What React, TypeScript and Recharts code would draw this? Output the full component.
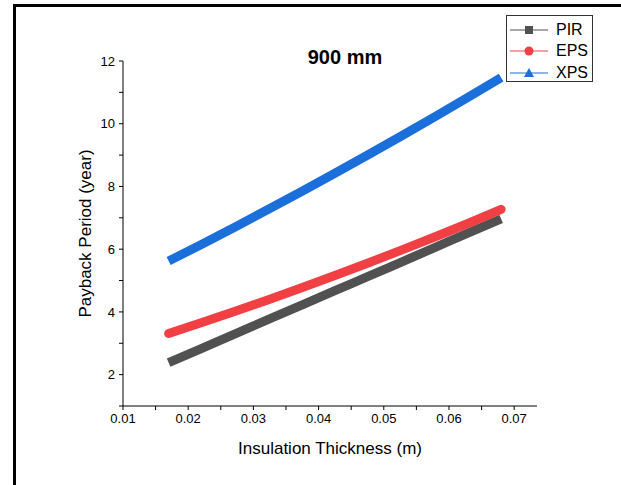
import { LineChart, Line, XAxis, YAxis } from "recharts";

// insulation thickness (m)
const thickness = [0.017, 0.0221, 0.0272, 0.0323, 0.0374, 0.0425, 0.0476, 0.0527, 0.0578, 0.0629, 0.068];
// payback period (year)
const pir = [2.38, 2.84, 3.3, 3.76, 4.22, 4.68, 5.13, 5.59, 6.05, 6.51, 6.97];
const eps = [3.31, 3.66, 4.02, 4.39, 4.77, 5.16, 5.56, 5.97, 6.39, 6.82, 7.27];
const xps = [5.62, 6.16, 6.71, 7.27, 7.84, 8.42, 9.01, 9.61, 10.22, 10.84, 11.47];

const xTicks = [0.01, 0.015, 0.02, 0.025, 0.03, 0.035, 0.04, 0.045, 0.05, 0.055, 0.06, 0.065, 0.07];
const yTicks = [1, 2, 3, 4, 5, 6, 7, 8, 9, 10, 11, 12];

const FONT = "Arial, 'Liberation Sans', sans-serif";

const series = [
  { key: "PIR", color: "#515151", cap: "butt", marker: "square" },
  { key: "EPS", color: "#F14044", cap: "round", marker: "circle" },
  { key: "XPS", color: "#1B6FDB", cap: "butt", marker: "triangle" },
] as const;

const data = thickness.map((t, i) => ({ t, PIR: pir[i], EPS: eps[i], XPS: xps[i] }));

function Marker({ kind, color }: { kind: string; color: string }) {
  if (kind === "square") return <rect x={15} y={-4} width={8} height={8} fill={color} />;
  if (kind === "circle") return <circle cx={19} cy={0} r={4.5} fill={color} />;
  return <polygon points="19,-5 24,4 14,4" fill={color} />;
}

function LegendBox() {
  return (
    <div
      style={{
        position: "absolute",
        left: 506,
        top: 15,
        width: 85,
        height: 65,
        border: "1px solid #333",
        background: "#fff",
        fontFamily: FONT,
        fontSize: 16,
      }}
    >
      {series.map((s) => (
        <div key={s.key} style={{ display: "flex", alignItems: "center", height: 21.5, marginTop: s.key === "PIR" ? 3 : 0 }}>
          <svg width={44} height={12} style={{ marginLeft: 3 }}>
            <g transform="translate(0,6)">
              <line x1={0} x2={38} y1={0} y2={0} stroke={s.color} strokeWidth={1} />
              <Marker kind={s.marker} color={s.color} />
            </g>
          </svg>
          <span style={{ color: "#000", marginLeft: 2 }}>{s.key}</span>
        </div>
      ))}
    </div>
  );
}

export default function App() {
  return (
    <div style={{ position: "absolute", left: 0, top: 0, width: 621, height: 485, background: "#fff", overflow: "hidden" }}>
      <div
        style={{
          position: "absolute",
          left: 13,
          top: 4,
          right: -10,
          bottom: -10,
          borderLeft: "3px solid #000",
          borderTop: "3px solid #000",
        }}
      />
      <div
        style={{
          position: "absolute",
          left: 245,
          width: 200,
          top: 46,
          textAlign: "center",
          fontFamily: FONT,
          fontWeight: "bold",
          fontSize: 20,
          color: "#000",
        }}
      >
        900 mm
      </div>
      <LineChart width={621} height={485} data={data} margin={{ top: 61, right: 84, bottom: 0, left: 47 }} style={{ position: "absolute", left: 0, top: 0 }}>
        <XAxis
          dataKey="t"
          type="number"
          domain={[0.01, 0.0735]}
          ticks={xTicks}
          allowDataOverflow
          height={79}
          stroke="#000"
          tickSize={4}
          tickMargin={4}
          tick={{ fill: "#000", fontSize: 13, fontFamily: FONT }}
          tickFormatter={(v: number) => (Math.round(v * 1000) % 10 === 0 ? v.toFixed(2) : "")}
          label={{ value: "Insulation Thickness (m)", position: "center", dy: 2, fill: "#000", fontSize: 17, fontFamily: FONT }}
        />
        <YAxis
          type="number"
          domain={[1, 12]}
          ticks={yTicks}
          allowDataOverflow
          width={76}
          stroke="#000"
          tickSize={4}
          tickMargin={4}
          tick={{ fill: "#000", fontSize: 13, fontFamily: FONT }}
          tickFormatter={(v: number) => (v % 2 === 0 ? String(v) : "")}
          label={{ value: "Payback Period (year)", angle: -90, position: "center", fill: "#000", fontSize: 17, fontFamily: FONT }}
        />
        {series.map((s) => (
          <Line
            key={s.key}
            dataKey={s.key}
            type="monotone"
            stroke={s.color}
            strokeWidth={9}
            strokeLinecap={s.cap}
            strokeLinejoin="round"
            dot={false}
            activeDot={false}
            isAnimationActive={false}
          />
        ))}
      </LineChart>
      <LegendBox />
    </div>
  );
}
